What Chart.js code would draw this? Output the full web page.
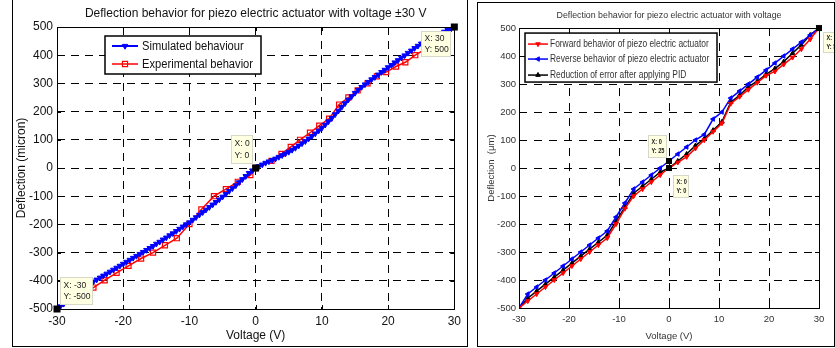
<!DOCTYPE html>
<html><head><meta charset="utf-8">
<script src="https://cdn.jsdelivr.net/npm/chart.js@4.4.1/dist/chart.umd.min.js"></script>
<style>
html,body{margin:0;padding:0;background:#fff;width:835px;height:348px;overflow:hidden;position:relative}
.panel{position:absolute;border:1px solid #000;box-sizing:border-box}
#p1{left:12px;top:-1px;width:456px;height:348px}
#p2{left:477px;top:2px;width:358px;height:345px}
canvas{position:absolute}
#c1{left:13px;top:0px}
#c2{left:478px;top:3px}
</style></head>
<body>
<div class="panel" id="p1"></div>
<div class="panel" id="p2"></div>
<canvas id="c1" width="453" height="346"></canvas>
<canvas id="c2" width="356" height="343"></canvas>
<script>
// ---------- Left chart data ----------
const leftTitle = 'Deflection behavior for piezo electric actuator with voltage ±30 V';
const simVoltage = [-30,-29.5,-29,-28.5,-28,-27.5,-27,-26.5,-26,-25.5,-25,-24.5,-24,-23.5,-23,-22.5,-22,-21.5,-21,-20.5,-20,-19.5,-19,-18.5,-18,-17.5,-17,-16.5,-16,-15.5,-15,-14.5,-14,-13.5,-13,-12.5,-12,-11.5,-11,-10.5,-10,-9.5,-9,-8.5,-8,-7.5,-7,-6.5,-6,-5.5,-5,-4.5,-4,-3.5,-3,-2.5,-2,-1.5,-1,-0.5,0,0.5,1,1.5,2,2.5,3,3.5,4,4.5,5,5.5,6,6.5,7,7.5,8,8.5,9,9.5,10,10.5,11,11.5,12,12.5,13,13.5,14,14.5,15,15.5,16,16.5,17,17.5,18,18.5,19,19.5,20,20.5,21,21.5,22,22.5,23,23.5,24,24.5,25,25.5,26,26.5,27,27.5,28,28.5,29,29.5,30];
const simDeflection = [-500,-491,-482,-473,-464,-455,-446,-437,-428,-419,-411,-403,-396,-389,-382,-375,-368,-361,-354,-347,-340,-333,-326,-319,-312,-305,-298,-291,-284,-277,-269,-262,-254,-247,-239,-232,-224,-216,-208,-200,-193,-184,-175,-166,-157,-148,-139,-130,-121,-112,-102,-92,-82,-72,-62,-51,-40,-29,-18,-9,0,6,12,18,23,28,33,39,45,51,57,64,71,79,87,95,104,113,122,132,142,153,165,177,190,203,216,229,242,254,266,277,287,296,305,314,322,331,340,348,357,365,374,382,391,399,408,416,425,433,441,447,453,459,465,471,477,483,489,494,500];
const expVoltage = [-30,-28.2,-26.3,-24.5,-22.8,-21.0,-19.2,-17.3,-15.5,-13.7,-11.9,-10.0,-8.2,-6.3,-4.5,-2.7,-0.8,0,2.4,3.9,5.3,6.7,8.2,9.6,11.1,12.6,14.0,15.4,16.9,18.3,19.7,21.2,22.6,24.1,25.5,27.0,28.5,30];
const expDeflection = [-500,-475,-450,-424,-398,-372,-347,-321,-300,-274,-249,-199,-147,-100,-75,-49,-25,0,25,50,75,100,125,150,175,225,250,275,300,325,340,360,375,400,420,445,470,500];
const leftTipX = [-30, 0, 30];
const leftTipY = [-500, 0, 500];

// ---------- Right chart data ----------
const rightTitle = 'Deflection behavior for piezo electric actuator with voltage';
const pidVoltage = [-30,-28.24,-26.47,-24.71,-22.94,-21.18,-19.41,-17.65,-15.88,-14.12,-12.35,-10.59,-8.82,-7.06,-5.29,-3.53,-1.76,0,1.76,3.53,5.29,7.06,8.82,10.59,12.35,14.12,15.88,17.65,19.41,21.18,22.94,24.71,26.47,28.24,30];
const forwardDeflection = [-500,-475,-450,-425,-400,-375,-350,-325,-300,-275,-250,-200,-145,-100,-75,-50,-25,0,20,40,70,100,130,160,230,255,280,305,330,345,370,395,425,460,500];
const reverseDeflection = [-500,-450,-425,-400,-375,-350,-325,-300,-275,-250,-225,-175,-125,-75,-50,-25,0,25,50,75,100,120,175,200,250,275,300,325,350,375,400,425,450,475,500];
const pidDeflection = [-500,-465,-440,-415,-390,-365,-340,-315,-290,-265,-240,-190,-140,-90,-65,-40,-15,0,25,50,80,105,135,165,235,260,290,310,335,355,380,410,440,475,500];
const rightTipX = [0, 0, 30];
const rightTipY = [25, 0, 500];

const xTickStep = 10, yTickStep = 100;

const FAM = "'Liberation Sans', Arial, sans-serif";
Chart.defaults.font.family = FAM;
Chart.defaults.color = '#000';
const H = Chart.helpers;

function pairs(xs, ys){ return xs.map((x,i)=>({x:x, y:ys[i]})); }

function squeezedText(ctx, text, x, y, sx){
  ctx.save(); ctx.translate(x, y); ctx.scale(sx, 1); ctx.fillText(text, 0, 0); ctx.restore();
}

const overlayPlugin = {
  id: 'overlay',
  afterDraw(chart, args, o){
    const ctx = chart.ctx, ca = chart.chartArea, xs = chart.scales.x, ys = chart.scales.y;
    ctx.save();
    ctx.strokeStyle = '#000'; ctx.lineWidth = 1; ctx.setLineDash([]);
    ctx.strokeRect(Math.round(ca.left)+0.5, Math.round(ca.top)+0.5, Math.round(ca.right-ca.left), Math.round(ca.bottom-ca.top));
    ctx.beginPath();
    xs.ticks.forEach(t=>{ const p=Math.round(xs.getPixelForValue(t.value))+0.5;
      ctx.moveTo(p, ca.bottom); ctx.lineTo(p, ca.bottom-o.tick); ctx.moveTo(p, ca.top); ctx.lineTo(p, ca.top+o.tick); });
    ys.ticks.forEach(t=>{ const p=Math.round(ys.getPixelForValue(t.value))+0.5;
      ctx.moveTo(ca.left, p); ctx.lineTo(ca.left+o.tick, p); ctx.moveTo(ca.right, p); ctx.lineTo(ca.right-o.tick, p); });
    ctx.stroke();
    o.tips.forEach(tp=>{
      const px = xs.getPixelForValue(tp.x), py = ys.getPixelForValue(tp.y);
      const bx = Math.round(px+tp.dx)+0.5, by = Math.round(py+tp.dy)+0.5;
      ctx.fillStyle = '#ffffe1'; ctx.strokeStyle = '#d8d8c8'; ctx.lineWidth = 1;
      ctx.fillRect(bx, by, tp.w, tp.h); ctx.strokeRect(bx, by, tp.w, tp.h);
      ctx.fillStyle = '#222'; ctx.font = o.tipFont; ctx.textBaseline = 'middle'; ctx.textAlign='left';
      squeezedText(ctx, 'X: ' + tp.x, bx+3, by+tp.h*0.3, o.tipScale);
      squeezedText(ctx, 'Y: ' + tp.y, bx+3, by+tp.h*0.72, o.tipScale);
      ctx.fillStyle = '#000';
      const s = o.sq;
      ctx.fillRect(px-s/2, py-s/2, s, s);
    });
    const L = o.legend;
    const lx = ca.left + L.dx, ly = ca.top + L.dy;
    ctx.fillStyle = '#fff'; ctx.fillRect(lx, ly, L.w, L.h);
    ctx.strokeStyle = '#000'; ctx.lineWidth = L.bw; ctx.strokeRect(lx, ly, L.w, L.h);
    chart.data.datasets.forEach((ds, i)=>{
      const ry = ly + L.rows[i];
      ctx.strokeStyle = ds.borderColor; ctx.lineWidth = ds.borderWidth;
      ctx.beginPath(); ctx.moveTo(lx+L.s0, ry); ctx.lineTo(lx+L.s1, ry); ctx.stroke();
      ctx.fillStyle = ds.pointBackgroundColor; ctx.strokeStyle = ds.pointBorderColor; ctx.lineWidth = ds.pointBorderWidth;
      H.drawPoint(ctx, {pointStyle: ds.pointStyle, rotation: ds.pointRotation, radius: ds.pointRadius, borderWidth: ds.pointBorderWidth}, lx+(L.s0+L.s1)/2, ry);
      ctx.fillStyle = L.color; ctx.font = L.font; ctx.textBaseline='middle'; ctx.textAlign='left';
      squeezedText(ctx, ds.label, lx+L.tx, ry+0.5, L.sx);
    });
    ctx.restore();
  }
};

function axisCfg(min, max, step, font, fit, title, titleFont, tpad, tickPad, dash, color){
  return {
    type:'linear', min:min, max:max,
    ticks:{stepSize:step, padding:tickPad, color:color, font:font, maxRotation:0, autoSkip:false,
           callback:(v)=>String(v)},
    grid:{color:'#000', lineWidth:1, drawTicks:false},
    border:{display:false, dash:dash},
    title:{display:true, text:title, color:color, font:titleFont, padding:tpad},
    afterFit: fit
  };
}

// ---------- Left chart ----------
new Chart(document.getElementById('c1'), {
  type:'line',
  data:{datasets:[
    {label:'Simulated behaviour', data:pairs(simVoltage, simDeflection), borderColor:'#0000ff', borderWidth:2,
     pointStyle:'triangle', pointRotation:180, pointRadius:3.2, pointBackgroundColor:'#0000ff', pointBorderColor:'#0000ff', pointBorderWidth:1},
    {label:'Experimental behavior', data:pairs(expVoltage, expDeflection), borderColor:'#ff0000', borderWidth:1.5,
     pointStyle:'rect', pointRotation:0, pointRadius:3.6, pointBackgroundColor:'rgba(255,255,255,0)', pointBorderColor:'#ff0000', pointBorderWidth:1.2}
  ]},
  options:{
    responsive:false, animation:false, devicePixelRatio:1,
    layout:{padding:{left:0, right:10, top:0, bottom:0}},
    elements:{line:{tension:0}},
    plugins:{
      legend:{display:false}, tooltip:{enabled:false},
      title:{display:true, fullSize:false, text:leftTitle, color:'#111', font:{size:12, weight:'normal'}, padding:{top:6, bottom:6.6}},
      overlay:{tick:4, sq:7, tipFont:'9px ' + FAM, tipScale:0.95,
        tips:[
          {x:leftTipX[0], y:leftTipY[0], dx:3, dy:-32, w:32, h:27},
          {x:leftTipX[1], y:leftTipY[1], dx:-25, dy:-33, w:21, h:28},
          {x:leftTipX[2], y:leftTipY[2], dx:-33, dy:4, w:29, h:25}
        ],
        legend:{dx:48, dy:9, w:156, h:38, bw:1.5, rows:[10,28], s0:7, s1:33, tx:37, sx:0.93, font:'12px ' + FAM, color:'#111'}
      }
    },
    scales:{
      x: axisCfg(-30, 30, xTickStep, {size:12}, s=>{s.height=37;}, 'Voltage (V)', {size:12}, {top:3, bottom:3}, 5, [8,6], '#111'),
      y: axisCfg(-500, 500, yTickStep, {size:12}, s=>{s.width=44;}, 'Deflection (micron)', {size:12}, {top:1, bottom:1}, 4, [8,6], '#111')
    }
  },
  plugins:[overlayPlugin]
});

// ---------- Right chart ----------
new Chart(document.getElementById('c2'), {
  type:'line',
  data:{datasets:[
    {label:'Forward behavior of piezo electric actuator', data:pairs(pidVoltage, forwardDeflection), borderColor:'#ff0000', borderWidth:1.5,
     pointStyle:'triangle', pointRotation:180, pointRadius:2.6, pointBackgroundColor:'#ff0000', pointBorderColor:'#ff0000', pointBorderWidth:1},
    {label:'Reverse behavior of piezo electric actuator', data:pairs(pidVoltage, reverseDeflection), borderColor:'#0000ff', borderWidth:1.5,
     pointStyle:'triangle', pointRotation:270, pointRadius:2.6, pointBackgroundColor:'#0000ff', pointBorderColor:'#0000ff', pointBorderWidth:1},
    {label:'Reduction of error after applying PID', data:pairs(pidVoltage, pidDeflection), borderColor:'#000000', borderWidth:1.5,
     pointStyle:'triangle', pointRotation:0, pointRadius:2.6, pointBackgroundColor:'#000000', pointBorderColor:'#000000', pointBorderWidth:1}
  ]},
  options:{
    responsive:false, animation:false, devicePixelRatio:1,
    layout:{padding:{left:0, right:15, top:0, bottom:0}},
    elements:{line:{tension:0}},
    plugins:{
      legend:{display:false}, tooltip:{enabled:false},
      title:{display:true, fullSize:false, text:rightTitle, color:'#333', font:{size:8.8, weight:'normal'}, padding:{top:7.5, bottom:7}},
      overlay:{tick:4, sq:6, tipFont:'bold 7px ' + FAM, tipScale:0.8,
        tips:[
          {x:rightTipX[0], y:rightTipY[0], dx:-21, dy:-26, w:18, h:22},
          {x:rightTipX[1], y:rightTipY[1], dx:4, dy:7, w:15, h:22},
          {x:rightTipX[2], y:rightTipY[2], dx:4, dy:4, w:20, h:20}
        ],
        legend:{dx:6, dy:5, w:192, h:49, bw:1.5, rows:[11,26,42], s0:3, s1:23, tx:25, sx:0.8, font:'10.5px ' + FAM, color:'#333'}
      }
    },
    scales:{
      x: axisCfg(-30, 30, xTickStep, {size:9.5}, s=>{s.height=38;}, 'Voltage (V)', {size:9.5}, {top:3, bottom:4}, 6, [8,7], '#333'),
      y: axisCfg(-500, 500, yTickStep, {size:9.5}, s=>{s.width=41;}, 'Deflection  (μm)', {size:9.5}, {top:8, bottom:1}, 3, [8,7], '#333')
    }
  },
  plugins:[overlayPlugin]
});
</script>
</body></html>
